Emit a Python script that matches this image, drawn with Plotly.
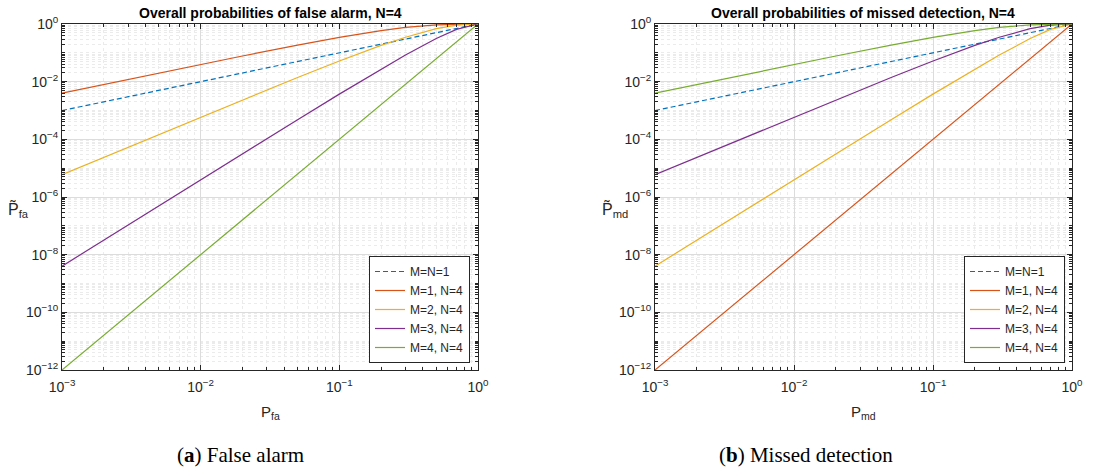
import plotly.graph_objects as go

# probability grid (x values)
p = [0.001, 0.002, 0.005, 0.01, 0.02, 0.05, 0.1, 0.2, 0.3, 0.5, 0.7, 1.0]

# curves (same shapes appear in both panels, order swapped)
y_m1 = [0.001, 0.002, 0.005, 0.01, 0.02, 0.05, 0.1, 0.2, 0.3, 0.5, 0.7, 1.0]
y_k1 = [0.00399, 0.00798, 0.0199, 0.0394, 0.0776, 0.185, 0.344, 0.590, 0.760, 0.9375, 0.992, 1.0]
y_k2 = [5.99e-6, 2.39e-5, 1.48e-4, 5.9e-4, 2.31e-3, 0.0140, 0.0523, 0.181, 0.348, 0.6875, 0.916, 1.0]
y_k3 = [4.0e-9, 3.2e-8, 4.98e-7, 3.97e-6, 3.14e-5, 4.81e-4, 3.7e-3, 0.0272, 0.0837, 0.3125, 0.652, 1.0]
y_k4 = [1e-12, 1.6e-11, 6.25e-10, 1e-8, 1.6e-7, 6.25e-6, 1e-4, 1.6e-3, 8.1e-3, 0.0625, 0.24, 1.0]

labels = ["M=N=1", "M=1, N=4", "M=2, N=4", "M=3, N=4", "M=4, N=4"]
colors = ["#0072BD", "#D95319", "#EDB120", "#7E2F8E", "#77AC30"]

fa_series = [y_m1, y_k1, y_k2, y_k3, y_k4]
md_series = [y_m1, y_k4, y_k3, y_k2, y_k1]

x_tickvals = [1e-3, 1e-2, 1e-1, 1]
x_ticktext = ["10<sup>\u22123</sup>", "10<sup>\u22122</sup>", "10<sup>\u22121</sup>", "10<sup>0</sup>"]
y_tickvals = [1e-12, 1e-10, 1e-8, 1e-6, 1e-4, 1e-2, 1]
y_ticktext = ["10<sup>\u221212</sup>", "10<sup>\u221210</sup>", "10<sup>\u22128</sup>",
              "10<sup>\u22126</sup>", "10<sup>\u22124</sup>", "10<sup>\u22122</sup>", "10<sup>0</sup>"]

W, H = 1120, 473
def px_x(v): return v / W
def px_y(v): return 1 - v / H

fig = go.Figure()

for i, (lab, col) in enumerate(zip(labels, colors)):
    fig.add_trace(go.Scatter(x=p, y=fa_series[i], mode="lines", name=lab,
                             line=dict(color=col, width=1.2, dash="5px,3px" if i == 0 else "solid"),
                             xaxis="x", yaxis="y", legend="legend"))
for i, (lab, col) in enumerate(zip(labels, colors)):
    fig.add_trace(go.Scatter(x=p, y=md_series[i], mode="lines", name=lab,
                             line=dict(color=col, width=1.2, dash="5px,3px" if i == 0 else "solid"),
                             xaxis="x2", yaxis="y2", legend="legend2"))

axcol = "#262626"
font = "Liberation Sans, Arial, sans-serif"

def common():
    return dict(type="log", showgrid=True, gridcolor="#dcdcdc", gridwidth=1,
                showline=True, linecolor=axcol, linewidth=1, mirror="allticks",
                ticks="inside", ticklen=5, tickcolor=axcol, automargin=False,
                tickfont=dict(family=font, size=14, color=axcol),
                minor=dict(dtick="D1", showgrid=True, gridcolor="#ebebeb", griddash="dot",
                           ticks="inside", ticklen=3, tickcolor=axcol),
                zeroline=False, fixedrange=True)

def xax(domain, anchor):
    d = common()
    d.update(domain=domain, anchor=anchor, range=[-3, 0],
             tickmode="array", tickvals=x_tickvals, ticktext=x_ticktext, ticklabelstandoff=4)
    return d

def yax(domain, anchor):
    d = common()
    d.update(domain=domain, anchor=anchor, range=[-12, 0],
             tickmode="array", tickvals=y_tickvals, ticktext=y_ticktext)
    return d

ydom = [px_y(370), px_y(24)]
legstyle = dict(bgcolor="white", bordercolor=axcol, borderwidth=1,
                font=dict(family=font, size=12, color=axcol),
                xanchor="right", yanchor="bottom", tracegroupgap=0,
                itemwidth=30)

fig.update_layout(
    width=W, height=H,
    margin=dict(l=0, r=0, t=0, b=0),
    paper_bgcolor="white", plot_bgcolor="white",
    xaxis=xax([px_x(62), px_x(478)], "y"),
    yaxis=yax(ydom, "x"),
    xaxis2=xax([px_x(655), px_x(1072)], "y2"),
    yaxis2=yax(ydom, "x2"),
    legend=dict(x=px_x(470), y=px_y(363), **legstyle),
    legend2=dict(x=px_x(1065), y=px_y(363), **legstyle),
    showlegend=True,
)

ann = []
ann.append(dict(text="<b>Overall probabilities of false alarm, N=4</b>", x=px_x(270), y=px_y(13),
                xref="paper", yref="paper", showarrow=False, xanchor="center", yanchor="middle",
                font=dict(family=font, size=14, color="#000")))
ann.append(dict(text="<b>Overall probabilities of missed detection, N=4</b>", x=px_x(863), y=px_y(13),
                xref="paper", yref="paper", showarrow=False, xanchor="center", yanchor="middle",
                font=dict(family=font, size=14, color="#000")))
ann.append(dict(text="P<sub>fa</sub>", x=px_x(270), y=px_y(412), xref="paper", yref="paper",
                showarrow=False, xanchor="center", yanchor="middle",
                font=dict(family=font, size=15, color=axcol)))
ann.append(dict(text="P<sub>md</sub>", x=px_x(863), y=px_y(412), xref="paper", yref="paper",
                showarrow=False, xanchor="center", yanchor="middle",
                font=dict(family=font, size=15, color=axcol)))
ann.append(dict(text="P\u0303<sub>fa</sub>", x=px_x(18), y=px_y(210), xref="paper", yref="paper",
                showarrow=False, xanchor="center", yanchor="middle",
                font=dict(family=font, size=16, color=axcol)))
ann.append(dict(text="P\u0303<sub>md</sub>", x=px_x(615), y=px_y(210), xref="paper", yref="paper",
                showarrow=False, xanchor="center", yanchor="middle",
                font=dict(family=font, size=16, color=axcol)))
ann.append(dict(text="(<b>a</b>) False alarm", x=px_x(240), y=px_y(455), xref="paper", yref="paper",
                showarrow=False, xanchor="center", yanchor="middle",
                font=dict(family="Liberation Serif, DejaVu Serif, serif", size=21, color="#000")))
ann.append(dict(text="(<b>b</b>) Missed detection", x=px_x(806), y=px_y(455), xref="paper", yref="paper",
                showarrow=False, xanchor="center", yanchor="middle",
                font=dict(family="Liberation Serif, DejaVu Serif, serif", size=21, color="#000")))
fig.update_layout(annotations=ann)

fig.write_html("out.html", config={"displayModeBar": False},
               post_script="document.body.style.margin='0';document.body.style.overflow='hidden';")
